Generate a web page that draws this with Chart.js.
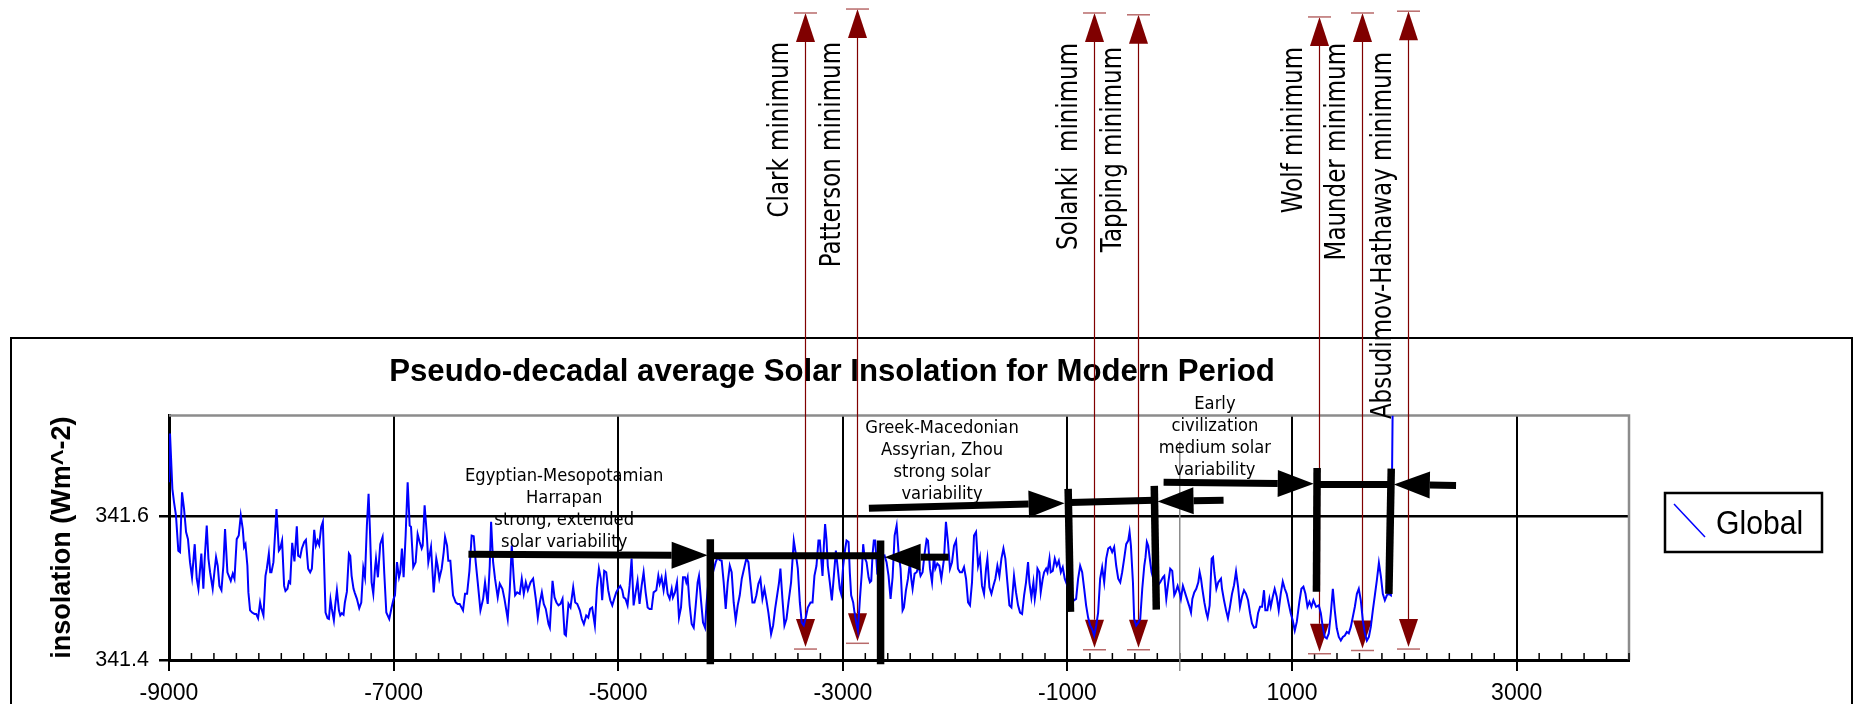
<!DOCTYPE html>
<html>
<head>
<meta charset="utf-8">
<script src="https://cdn.jsdelivr.net/npm/chart.js@4.4.1/dist/chart.umd.min.js"></script>
<style>
  html, body { margin: 0; padding: 0; background: #fff; }
</style>
</head>
<body>
<canvas id="myChart" width="1854" height="704"></canvas>
<script>
// pseudo-decadal global insolation
const years = [
  -9000, -8991, -8970, -8955, -8938, -8917, -8902, -8884, -8866, -8848,
  -8831, -8813, -8795, -8771, -8753, -8738, -8712, -8694, -8682, -8664,
  -8649, -8634, -8611, -8596, -8581, -8566, -8551, -8533, -8516, -8501,
  -8480, -8450, -8432, -8417, -8397, -8379, -8361, -8343, -8331, -8319,
  -8302, -8293, -8278, -8260, -8239, -8224, -8207, -8189, -8180, -8159,
  -8141, -8129, -8111, -8099, -8088, -8070, -8043, -8022, -8010, -7993,
  -7975, -7963, -7945, -7933, -7921, -7903, -7883, -7862, -7850, -7832,
  -7817, -7796, -7781, -7761, -7743, -7728, -7707, -7692, -7677, -7663,
  -7645, -7630, -7606, -7588, -7576, -7562, -7550, -7532, -7520, -7505,
  -7487, -7475, -7461, -7446, -7434, -7416, -7398, -7386, -7374, -7357,
  -7345, -7327, -7306, -7288, -7270, -7255, -7238, -7223, -7211, -7196,
  -7181, -7166, -7157, -7140, -7119,
  -7098, -7083, -7065, -7039, -7018, -7000, -6988, -6970, -6952, -6941,
  -6926, -6911, -6893, -6875, -6857, -6845, -6825, -6804, -6786, -6768,
  -6750, -6741, -6724, -6706, -6691, -6667, -6643, -6620, -6608, -6593,
  -6572, -6554, -6542, -6524, -6513, -6495, -6471, -6447, -6429, -6412,
  -6382, -6364, -6346, -6325, -6305, -6287, -6269, -6251, -6227, -6203,
  -6186, -6162, -6144, -6132, -6114, -6097, -6073, -6055, -6031, -6013,
  -5984, -5966, -5948, -5930, -5918, -5900, -5877, -5859, -5841, -5823,
  -5805, -5781, -5758, -5734, -5716, -5698, -5680, -5663, -5645, -5621,
  -5609, -5585, -5567, -5550, -5532, -5514, -5496, -5478, -5466, -5443,
  -5425, -5401, -5383, -5365, -5342, -5324, -5306,
  -5285, -5267, -5250, -5232, -5208, -5190, -5172, -5155, -5143, -5125,
  -5107, -5089, -5071, -5053, -5036, -5018, -5000, -4982, -4964, -4952,
  -4935, -4917, -4899, -4881, -4863, -4845, -4828, -4810, -4792, -4774,
  -4756, -4738, -4721, -4703, -4685, -4661, -4643, -4631, -4614, -4596,
  -4578, -4560, -4542, -4524, -4513, -4495, -4477, -4459, -4441, -4423,
  -4406, -4394, -4382, -4364, -4346, -4328, -4310, -4293, -4281, -4263,
  -4245, -4227, -4215, -4198, -4180, -4156, -4132, -4114, -4097, -4079,
  -4061, -4043, -4025, -4007, -3990, -3972, -3954, -3936, -3918, -3900,
  -3877, -3859, -3841, -3823, -3805, -3787, -3770, -3752, -3734, -3716,
  -3698, -3680, -3663, -3639, -3621, -3603, -3585, -3568, -3556, -3538,
  -3520, -3502, -3484, -3461,
  -3437, -3419, -3401, -3383, -3366, -3348, -3330, -3312, -3288, -3270,
  -3253, -3235, -3217, -3205, -3193, -3181, -3169, -3158, -3146, -3134,
  -3116, -3098, -3080, -3062, -3045, -3027, -3015, -2997, -2979, -2967,
  -2949, -2938, -2926, -2908, -2896, -2878, -2866, -2848, -2831, -2819,
  -2807, -2789, -2771, -2759, -2747, -2735, -2724, -2712, -2694, -2670,
  -2652, -2628, -2611, -2593, -2575, -2557, -2539, -2521, -2504, -2486,
  -2468, -2456, -2438, -2420, -2403, -2391, -2379, -2361, -2343, -2325,
  -2308, -2290, -2272, -2254, -2242, -2224, -2206, -2189, -2177, -2159,
  -2141, -2123, -2099, -2082, -2064, -2046, -2028, -2010, -1992, -1975,
  -1957, -1939, -1921, -1903, -1885, -1868, -1850, -1832, -1814, -1796,
  -1779, -1761, -1743, -1725, -1713, -1695, -1677, -1660, -1642, -1624,
  -1606, -1588, -1570, -1553, -1535, -1517, -1499,
  -1476, -1458, -1440, -1422, -1404, -1386, -1369, -1351, -1339, -1321,
  -1303, -1291, -1279, -1267, -1250, -1238, -1220, -1208, -1190, -1178,
  -1160, -1149, -1131, -1113, -1095, -1077, -1059, -1042, -1024, -1000,
  -970, -941, -923, -905, -887, -869, -851, -834, -816, -798,
  -780, -762, -744, -727, -709, -691, -673, -655, -637, -620,
  -602, -584, -566, -548, -530, -513, -495, -477, -459, -447,
  -435, -417, -406, -388, -370, -352, -334, -316, -305, -293,
  -281, -263, -251, -227, -198, -174, -150, -138, -120, -102,
  -85, -67, -49, -37, -19, -2, 10, 28, 46, 64,
  82, 100, 112, 129, 147, 165, 177, 189, 201, 219,
  236, 248, 266, 284, 296, 308, 326, 343, 367,
  376, 394, 412, 429, 447, 465, 483, 501, 519, 536,
  554, 572, 590, 608, 626, 643, 661, 679, 697, 715,
  733, 750, 762, 780, 798, 810, 828, 845, 863, 881,
  899, 917, 935, 952, 970, 988, 1006, 1024, 1042, 1065,
  1083, 1101, 1119, 1137, 1155, 1172, 1190, 1214, 1238, 1256,
  1273, 1291, 1309, 1327, 1345, 1363, 1380, 1398, 1416, 1434,
  1452, 1470, 1487, 1505, 1523, 1541, 1559, 1577, 1594, 1612,
  1630, 1648, 1666, 1684, 1701, 1719, 1737, 1755, 1773, 1791,
  1808, 1826, 1844, 1862, 1880, 1895
];
const insolation = [
  341.647, 341.715, 341.638, 341.619, 341.601, 341.552, 341.550, 341.633, 341.610, 341.578,
  341.568, 341.536, 341.515, 341.561, 341.513, 341.499, 341.548, 341.499, 341.541, 341.587,
  341.541, 341.522, 341.499, 341.522, 341.543, 341.531, 341.503, 341.497, 341.531, 341.582,
  341.522, 341.510, 341.520, 341.513, 341.568, 341.573, 341.601, 341.582, 341.557, 341.561,
  341.531, 341.494, 341.469, 341.466, 341.464, 341.464, 341.458, 341.480, 341.473, 341.462,
  341.517, 341.527, 341.548, 341.522, 341.522, 341.536, 341.610, 341.552, 341.555, 341.566,
  341.503, 341.496, 341.499, 341.509, 341.507, 341.563, 341.537, 341.586, 341.545, 341.543,
  341.555, 341.564, 341.567, 341.527, 341.522, 341.527, 341.581, 341.559, 341.566, 341.560,
  341.585, 341.592, 341.466, 341.458, 341.457, 341.484, 341.471, 341.455, 341.476, 341.497,
  341.469, 341.462, 341.465, 341.463, 341.480, 341.495, 341.548, 341.545, 341.517, 341.499,
  341.493, 341.485, 341.472, 341.480, 341.528, 341.515, 341.587, 341.631, 341.582, 341.508,
  341.492, 341.527, 341.541, 341.515, 341.561,
  341.571, 341.520, 341.466, 341.457, 341.473, 341.485, 341.490, 341.536, 341.515, 341.522,
  341.555, 341.515, 341.573, 341.647, 341.587, 341.585, 341.529, 341.536, 341.575, 341.564,
  341.555, 341.559, 341.615, 341.578, 341.536, 341.557, 341.494, 341.541, 341.531, 341.513,
  341.527, 341.550, 341.571, 341.559, 341.538, 341.538, 341.490, 341.480, 341.478, 341.478,
  341.469, 341.492, 341.492, 341.524, 341.573, 341.572, 341.536, 341.508, 341.469, 341.485,
  341.508, 341.478, 341.531, 341.592, 341.536, 341.513, 341.487, 341.506, 341.499, 341.485,
  341.457, 341.497, 341.559, 341.513, 341.490, 341.494, 341.492, 341.513, 341.492, 341.508,
  341.497, 341.508, 341.513, 341.485, 341.459, 341.480, 341.494, 341.478, 341.471, 341.450,
  341.445, 341.510, 341.487, 341.480, 341.476, 341.478, 341.485, 341.436, 341.434, 341.478,
  341.473, 341.501, 341.480, 341.478, 341.469, 341.457, 341.450,
  341.462, 341.459, 341.471, 341.473, 341.448, 341.499, 341.527, 341.513, 341.483, 341.524,
  341.522, 341.497, 341.483, 341.476, 341.485, 341.494, 341.499, 341.503, 341.497, 341.487,
  341.485, 341.476, 341.503, 341.541, 341.476, 341.494, 341.510, 341.478, 341.503, 341.522,
  341.494, 341.473, 341.471, 341.471, 341.494, 341.497, 341.517, 341.506, 341.515, 341.497,
  341.517, 341.492, 341.485, 341.499, 341.487, 341.494, 341.508, 341.459, 341.473, 341.515,
  341.515, 341.508, 341.515, 341.476, 341.450, 341.445, 341.476, 341.508, 341.517, 341.483,
  341.452, 341.445, 341.476, 341.508, 341.531, 341.522, 341.536, 341.543, 341.539, 341.538,
  341.508, 341.471, 341.508, 341.531, 341.522, 341.480, 341.455, 341.476, 341.490, 341.513,
  341.529, 341.541, 341.536, 341.508, 341.480, 341.480, 341.490, 341.506, 341.513, 341.485,
  341.499, 341.483, 341.466, 341.436, 341.448, 341.471, 341.490, 341.508, 341.527, 341.485,
  341.448, 341.457, 341.480, 341.508,
  341.566, 341.548, 341.527, 341.480, 341.452, 341.448, 341.459, 341.473, 341.480, 341.480,
  341.517, 341.531, 341.566, 341.566, 341.541, 341.517, 341.559, 341.589, 341.568, 341.531,
  341.508, 341.483, 341.517, 341.552, 341.527, 341.499, 341.492, 341.531, 341.555, 341.566,
  341.564, 341.522, 341.490, 341.480, 341.466, 341.450, 341.441, 341.485, 341.522, 341.561,
  341.543, 341.536, 341.515, 341.508, 341.510, 341.548, 341.566, 341.566, 341.522, 341.527,
  341.541, 341.545, 341.536, 341.517, 341.485, 341.515, 341.573, 341.587, 341.550, 341.527,
  341.469, 341.473, 341.497, 341.513, 341.536, 341.513, 341.499, 341.520, 341.522, 341.531,
  341.517, 341.522, 341.548, 341.568, 341.566, 341.527, 341.508, 341.545, 341.527, 341.534,
  341.531, 341.513, 341.541, 341.592, 341.564, 341.527, 341.536, 341.559, 341.566, 341.527,
  341.522, 341.522, 341.529, 341.513, 341.480, 341.476, 341.508, 341.573, 341.578, 341.531,
  341.543, 341.503, 341.492, 341.527, 341.541, 341.501, 341.492, 341.503, 341.513, 341.531,
  341.517, 341.541, 341.555, 341.541, 341.508, 341.476, 341.473,
  341.517, 341.494, 341.476, 341.466, 341.464, 341.490, 341.508, 341.536, 341.508, 341.487,
  341.508, 341.485, 341.499, 341.527, 341.522, 341.494, 341.513, 341.522, 341.527, 341.522,
  341.541, 341.522, 341.524, 341.541, 341.531, 341.538, 341.522, 341.529, 341.513, 341.503,
  341.490, 341.483, 341.485, 341.513, 341.531, 341.522, 341.499, 341.476, 341.459, 341.448,
  341.443, 341.434, 341.448, 341.466, 341.513, 341.529, 341.508, 341.541, 341.555, 341.557,
  341.550, 341.557, 341.531, 341.513, 341.508, 341.522, 341.541, 341.561, 341.566, 341.578,
  341.559, 341.508, 341.457, 341.448, 341.452, 341.457, 341.499, 341.531, 341.543, 341.564,
  341.559, 341.536, 341.522, 341.508, 341.503, 341.508, 341.515, 341.517, 341.485, 341.508,
  341.527, 341.524, 341.490, 341.494, 341.503, 341.494, 341.485, 341.503, 341.494, 341.485,
  341.476, 341.466, 341.485, 341.494, 341.499, 341.508, 341.522, 341.513, 341.499, 341.480,
  341.466, 341.459, 341.476, 341.541, 341.543, 341.522, 341.499, 341.508, 341.513,
  341.499, 341.483, 341.469, 341.458, 341.474, 341.492, 341.504, 341.523, 341.502, 341.474,
  341.488, 341.497, 341.492, 341.483, 341.465, 341.451, 341.445, 341.446, 341.465, 341.474,
  341.474, 341.497, 341.469, 341.469, 341.485, 341.474, 341.488, 341.499, 341.488, 341.469,
  341.492, 341.509, 341.499, 341.492, 341.478, 341.465, 341.455, 341.441, 341.453, 341.481,
  341.499, 341.502, 341.492, 341.474, 341.481, 341.474, 341.483, 341.474, 341.476, 341.465,
  341.446, 341.432, 341.430, 341.437, 341.465, 341.499, 341.469, 341.444, 341.432, 341.427,
  341.432, 341.434, 341.439, 341.437, 341.446, 341.460, 341.474, 341.492, 341.499, 341.483,
  341.455, 341.437, 341.427, 341.432, 341.446, 341.469, 341.490, 341.511, 341.535, 341.516,
  341.492, 341.483, 341.490, 341.492, 341.490, 341.740
];

const xTickLabels = ['-9000', '-7000', '-5000', '-3000', '-1000', '1000', '3000'];
const yTickValues = [341.4, 341.6];

// solar minima marked with red arrows (year, top tip, bottom tip in Wm^-2 units)
const minimaNames = ['Clark minimum', 'Patterson minimum', 'Solanki  minimum', 'Tapping minimum',
  'Wolf minimum', 'Maunder minimum', 'Absudimov-Hathaway minimum'];
const minimaYears = [-3338, -2870, -761, -370, 1243, 1620, 2035];
const minimaTop = [342.2995, 342.305, 342.2995, 342.297, 342.294, 342.2995, 342.302];
const minimaBottom = [341.418, 341.426, 341.417, 341.417, 341.4115, 341.416, 341.418];

// civilisation periods: arrows [fromYear, fromValue, tipYear, tipValue]
const eraArrows = [
  [-6334, 341.547, -4204, 341.5455],
  [-2058, 341.543, -2628, 341.543],
  [-2768, 341.611, -1025, 341.618],
  [390, 341.622, -198, 341.6204],
  [-144, 341.647, 1193, 341.645],
  [2460, 341.6425, 1906, 341.644]
];
// period boundaries [topYear, topValue, bottomYear, bottomValue]
const eraBars = [
  [-4180, 341.568, -4180, 341.394],
  [-2664, 341.566, -2664, 341.394],
  [-994, 341.638, -973, 341.467],
  [-227, 341.642, -209, 341.470],
  [1223, 341.667, 1217, 341.495],
  [1883, 341.666, 1862, 341.492]
];
const eraLinks = [
  [-4180, 341.5448, -2664, 341.5448],
  [-973, 341.619, -227, 341.622],
  [1223, 341.644, 1877, 341.644]
];
const eraLabels = [
  ['Egyptian-Mesopotamian', 'Harrapan', 'strong, extended', 'solar variability'],
  ['Greek-Macedonian', 'Assyrian, Zhou', 'strong solar', 'variability'],
  ['Early', 'civilization', 'medium solar', 'variability']
];
const eraLabelYears = [-5481, -2117, 313];
const eraLabelValues = [341.649, 341.7156, 341.7493];

const isMajor = v => xTickLabels.includes(String(v));

function line(c, x1, y1, x2, y2) {
  c.beginPath(); c.moveTo(x1, y1); c.lineTo(x2, y2); c.stroke();
}

function arrow(c, x1, y1, x2, y2, len, half, width) {
  const a = Math.atan2(y2 - y1, x2 - x1);
  const bx = x2 - len * Math.cos(a), by = y2 - len * Math.sin(a);
  c.lineWidth = width;
  line(c, x1, y1, bx, by);
  c.beginPath();
  c.moveTo(x2, y2);
  c.lineTo(bx - half * Math.sin(a), by + half * Math.cos(a));
  c.lineTo(bx + half * Math.sin(a), by - half * Math.cos(a));
  c.closePath();
  c.fill();
}

const framePlugin = {
  id: 'frame',
  beforeDraw(chart) {
    const c = chart.ctx;
    c.save();
    c.fillStyle = '#fff';
    c.fillRect(0, 0, chart.width, chart.height);
    c.strokeStyle = '#000';
    c.lineWidth = 2;
    c.strokeRect(11, 338, 1841, 420);
    c.restore();
  }
};

const underPlugin = {
  id: 'under',
  beforeDatasetsDraw(chart) {
    const { ctx: c, chartArea: a, scales: { x, y } } = chart;
    c.save();
    // grey top / right edges of the plot
    c.strokeStyle = '#8c8c8c';
    c.lineWidth = 2.5;
    c.beginPath();
    c.moveTo(a.left, a.top); c.lineTo(a.right, a.top); c.lineTo(a.right, a.bottom);
    c.stroke();
    // minor ticks pointing inward
    c.strokeStyle = '#000';
    c.lineWidth = 1.5;
    x.ticks.forEach(t => {
      if (!isMajor(t.value)) {
        const px = x.getPixelForValue(t.value);
        line(c, px, a.bottom, px, a.bottom - 7);
      }
    });
    // thin line at year 0
    const p0 = x.getPixelForValue(0);
    c.strokeStyle = '#8c8c8c';
    c.lineWidth = 1.5;
    line(c, p0, a.top + 26, p0, a.bottom + 11);

    // red minima arrows
    minimaYears.forEach((yr, i) => {
      const px = Math.round(x.getPixelForValue(yr)) + 0.5;
      const yt = y.getPixelForValue(minimaTop[i]);
      const yb = y.getPixelForValue(minimaBottom[i]);
      c.strokeStyle = '#800000';
      c.fillStyle = '#800000';
      c.lineWidth = 1.2;
      line(c, px, yt + 28, px, yb - 28);
      c.beginPath();
      c.moveTo(px, yt); c.lineTo(px - 9.5, yt + 29); c.lineTo(px + 9.5, yt + 29); c.closePath(); c.fill();
      c.beginPath();
      c.moveTo(px, yb); c.lineTo(px - 9.5, yb - 28); c.lineTo(px + 9.5, yb - 28); c.closePath(); c.fill();
      c.strokeStyle = '#b86a6a';
      c.lineWidth = 1.5;
      line(c, px - 11.5, yt, px + 11.5, yt);
      line(c, px - 11.5, yb + 2, px + 11.5, yb + 2);
    });
    c.restore();
  }
};

const labelTops = [42, 42, 43, 47, 47, 43, 52];

const overPlugin = {
  id: 'over',
  afterDatasetsDraw(chart) {
    const { ctx: c, scales: { x, y } } = chart;
    const P = (yr, v) => [x.getPixelForValue(yr), y.getPixelForValue(v)];
    c.save();
    c.strokeStyle = '#000';
    c.fillStyle = '#000';
    c.lineCap = 'butt';
    eraArrows.forEach(([x1, v1, x2, v2]) => {
      const [a1, b1] = P(x1, v1), [a2, b2] = P(x2, v2);
      arrow(c, a1, b1, a2, b2, 36, 13.5, 7);
    });
    c.lineWidth = 7.5;
    eraBars.forEach(([x1, v1, x2, v2]) => {
      const [a1, b1] = P(x1, v1), [a2, b2] = P(x2, v2);
      line(c, a1, b1, a2, b2);
    });
    c.lineWidth = 7;
    eraLinks.forEach(([x1, v1, x2, v2]) => {
      const [a1, b1] = P(x1, v1), [a2, b2] = P(x2, v2);
      line(c, a1, b1, a2, b2);
    });

    // period texts
    c.font = '18.4px "DejaVu Sans", sans-serif';
    c.textAlign = 'center';
    c.textBaseline = 'alphabetic';
    eraLabels.forEach((lines, i) => {
      const [px, py] = P(eraLabelYears[i], eraLabelValues[i]);
      lines.forEach((ln, j) => {
        c.save();
        c.translate(px, py + j * 22);
        c.scale(0.89, 1);
        c.fillText(ln, 0, 0);
        c.restore();
      });
    });

    // rotated minima names
    c.font = '27.5px "DejaVu Sans", sans-serif';
    c.textAlign = 'right';
    c.textBaseline = 'middle';
    minimaNames.forEach((name, i) => {
      const px = Math.round(x.getPixelForValue(minimaYears[i])) + 0.5;
      c.save();
      c.translate(px - 25, labelTops[i]);
      c.rotate(-Math.PI / 2);
      c.scale(0.835, 1);
      c.fillText(name, 0, 0);
      c.restore();
    });
    c.restore();
  },
  afterDraw(chart) {
    const c = chart.ctx;
    const ds = chart.data.datasets[0];
    c.save();
    c.strokeStyle = '#000';
    c.lineWidth = 2.5;
    c.strokeRect(1665, 493, 157, 59);
    c.strokeStyle = ds.borderColor;
    c.lineWidth = 1.5;
    line(c, 1674, 504, 1705, 537);
    c.fillStyle = '#000';
    c.font = '33.5px "Liberation Sans", Arial, sans-serif';
    c.textAlign = 'left';
    c.textBaseline = 'alphabetic';
    c.translate(1716, 534);
    c.scale(0.9, 1);
    c.fillText(ds.label, 0, 0);
    c.restore();
  }
};

Chart.defaults.color = '#000';
Chart.defaults.font.family = '"Liberation Sans", Arial, sans-serif';

const ctx = document.getElementById('myChart');

new Chart(ctx, {
  type: 'line',
  data: {
    datasets: [{
      label: 'Global',
      data: years.map((yr, i) => ({ x: yr, y: insolation[i] })),
      borderColor: '#0000ff',
      borderWidth: 2,
      pointRadius: 0,
      tension: 0,
      fill: false
    }]
  },
  options: {
    responsive: false,
    animation: false,
    devicePixelRatio: 1,
    layout: { padding: { left: 35, right: 225, top: 340, bottom: 0 } },
    plugins: {
      legend: { display: false },
      tooltip: { enabled: false },
      title: {
        display: true,
        text: 'Pseudo-decadal average Solar Insolation for Modern Period',
        color: '#000',
        font: { size: 31.2, weight: 'bold' },
        padding: { top: 14, bottom: 24 }
      }
    },
    scales: {
      x: {
        type: 'linear',
        min: -9000,
        max: 4000,
        afterBuildTicks: scale => {
          const t = [];
          for (let v = -9000; v <= 4000; v += 200) t.push({ value: v });
          scale.ticks = t;
        },
        afterFit: scale => { scale.height = 44; },
        ticks: {
          autoSkip: false,
          maxRotation: 0,
          minRotation: 0,
          padding: 9,
          font: { size: 23 },
          callback: v => isMajor(v) ? String(v) : ''
        },
        grid: {
          color: c => isMajor(c.tick.value) ? '#000' : 'rgba(0,0,0,0)',
          tickColor: c => isMajor(c.tick.value) ? '#000' : 'rgba(0,0,0,0)',
          lineWidth: 2,
          tickWidth: 2,
          tickLength: 11
        },
        border: { color: '#000', width: 3 }
      },
      y: {
        min: 341.4,
        max: 341.74,
        afterBuildTicks: scale => { scale.ticks = yTickValues.map(v => ({ value: v })); },
        afterFit: scale => { scale.width = 134; },
        ticks: {
          padding: 10,
          font: { size: 21.5 },
          callback: v => v.toFixed(1)
        },
        grid: { color: '#000', lineWidth: 2.5, tickLength: 10 },
        border: { color: '#000', width: 3 },
        title: {
          display: true,
          text: 'insolation (Wm^-2)',
          color: '#000',
          font: { size: 27, weight: 'bold' },
          padding: { top: 11, bottom: 0 }
        }
      }
    }
  },
  plugins: [framePlugin, underPlugin, overPlugin]
});
</script>
</body>
</html>
